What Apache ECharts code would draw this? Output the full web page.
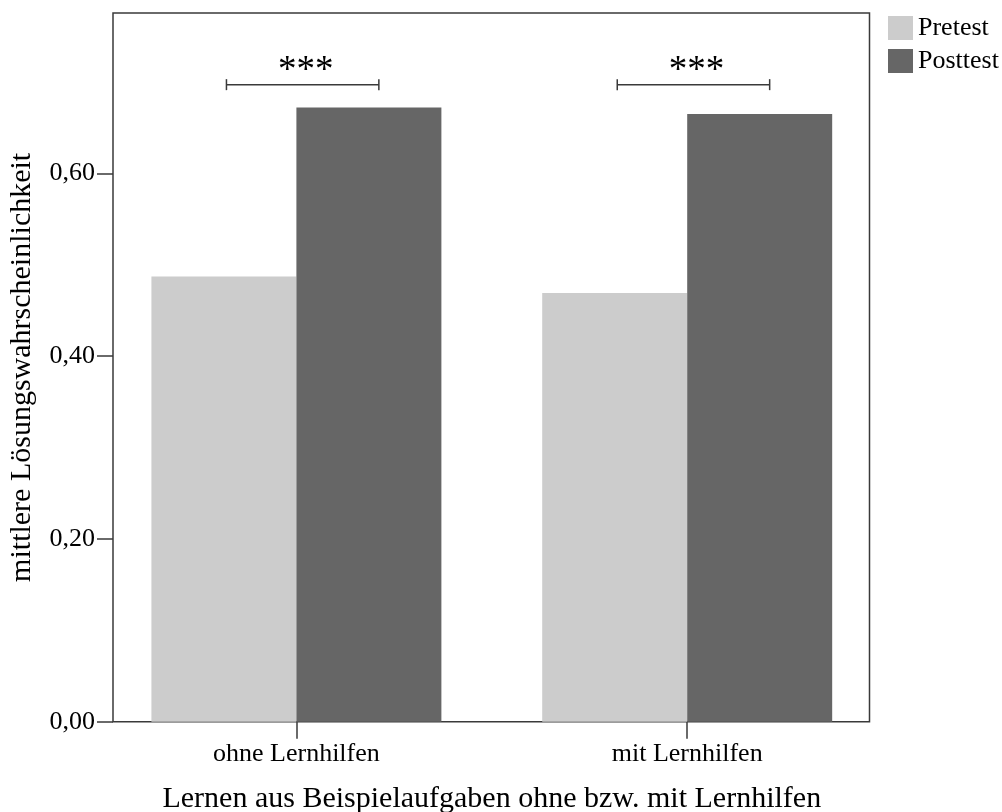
<!DOCTYPE html>
<html>
<head>
<meta charset="utf-8">
<script src="https://cdn.jsdelivr.net/npm/echarts@6/dist/echarts.min.js"></script>
<style>
  html, body { margin: 0; padding: 0; background: #fff; }
  #chart { width: 1002px; height: 812px; }
</style>
</head>
<body>
<div id="chart"></div>
<script>
const categories = ['ohne Lernhilfen', 'mit Lernhilfen'];
const pretest = [0.487, 0.469];
const posttest = [0.672, 0.665];
// significance brackets (height in y units) and their labels
const bracketY = [0.697, 0.697];
const bracketLabels = ['***', '***'];

const yTicks = v => v.toFixed(2).replace('.', ',');
const FONT = '"Liberation Serif", "Times New Roman", serif';
const LINE = '#3a3a3a';

const chart = echarts.init(document.getElementById('chart'), null, { renderer: 'canvas' });

chart.setOption({
  backgroundColor: '#fff',
  animation: false,
  textStyle: { fontFamily: FONT, color: '#000' },
  legend: {
    data: ['Pretest', 'Posttest'],
    orient: 'vertical',
    left: 883,
    top: 10,
    itemWidth: 25,
    itemHeight: 24,
    itemGap: 7,
    icon: 'rect',
    textStyle: { fontFamily: FONT, fontSize: 26, lineHeight: 24, color: '#000' },
  },
  grid: [
    // the drawn frame
    { left: 113, right: 132.5, top: 13, bottom: 90.3, show: true, borderColor: LINE, borderWidth: 1.5,
      backgroundColor: 'transparent', outerBoundsMode: 'none', containLabel: false },
    // the bars sit on a slightly wider band, like in SPSS
    { left: 101, right: 119.4, top: 13, bottom: 90.3, outerBoundsMode: 'none', containLabel: false },
  ],
  xAxis: [
    {
      gridIndex: 0, type: 'category', data: categories,
      axisLine: { show: false }, axisTick: { show: false }, axisLabel: { show: false },
    },
    {
      gridIndex: 1, type: 'category', data: categories,
      axisLine: { show: false },
      axisTick: { show: true, alignWithLabel: true, length: 17, lineStyle: { color: LINE, width: 1.5 } },
      axisLabel: { fontFamily: FONT, fontSize: 26, color: '#000', margin: 19 },
      name: 'Lernen aus Beispielaufgaben ohne bzw. mit Lernhilfen',
      nameLocation: 'middle',
      nameGap: 62,
      nameTextStyle: { fontFamily: FONT, fontSize: 30, color: '#000' },
    },
  ],
  yAxis: [
    {
      gridIndex: 0, type: 'value', min: 0, max: 0.7754, interval: 0.2,
      axisLine: { show: false },
      axisTick: { show: true, length: 16, lineStyle: { color: LINE, width: 1.5 } },
      axisLabel: { fontFamily: FONT, fontSize: 26, color: '#000', margin: 18, formatter: yTicks, showMaxLabel: false },
      splitLine: { show: false },
      name: 'mittlere Lösungswahrscheinlichkeit',
      nameLocation: 'middle',
      nameGap: 76,
      nameTextStyle: { fontFamily: FONT, fontSize: 30, color: '#000' },
    },
    {
      gridIndex: 1, type: 'value', min: 0, max: 0.7754, show: false, splitLine: { show: false },
    },
  ],
  series: [
    {
      name: 'Pretest', type: 'bar', xAxisIndex: 1, yAxisIndex: 1,
      data: pretest, barGap: '0%', barCategoryGap: '25.8%',
      itemStyle: { color: '#cccccc' },
    },
    {
      name: 'Posttest', type: 'bar', xAxisIndex: 1, yAxisIndex: 1,
      data: posttest, barGap: '0%', barCategoryGap: '25.8%',
      itemStyle: { color: '#666666' },
    },
    {
      type: 'custom', xAxisIndex: 1, yAxisIndex: 1,
      data: bracketY.map((y, i) => [i, y]),
      silent: true,
      renderItem(params, api) {
        const p = api.coord([api.value(0), api.value(1)]);
        const w = api.size([1, 0])[0];
        const x1 = p[0] - 0.179 * w;
        const x2 = p[0] + 0.211 * w;
        const y = p[1];
        const st = { stroke: LINE, lineWidth: 1.5 };
        return {
          type: 'group',
          children: [
            { type: 'line', shape: { x1, y1: y, x2, y2: y }, style: st },
            { type: 'line', shape: { x1, y1: y - 5.5, x2: x1, y2: y + 5.5 }, style: st },
            { type: 'line', shape: { x1: x2, y1: y - 5.5, x2, y2: y + 5.5 }, style: st },
            {
              type: 'text',
              x: (x1 + x2) / 2 + 3, y: y - 13,
              style: {
                text: bracketLabels[params.dataIndex],
                fontFamily: FONT, fontSize: 37, fill: '#000',
                align: 'center', verticalAlign: 'middle',
              },
            },
          ],
        };
      },
    },
  ],
});
</script>
</body>
</html>
